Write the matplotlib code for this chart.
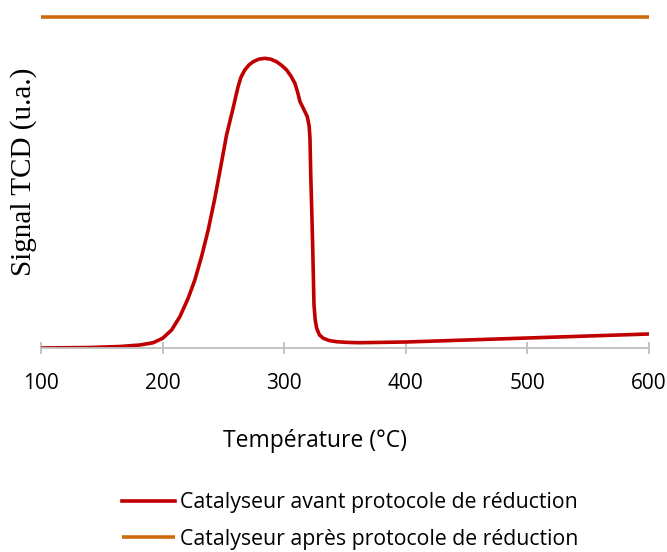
import matplotlib.pyplot as plt
import numpy as np

# TPR curve, signal (arbitrary units)
avant_temp = [100, 140, 165, 181.4, 192.3, 200, 207.4, 214.2, 221, 226.5, 232,
              237.5, 243, 247, 252.6, 258, 262, 264.5, 267.6, 271, 274.5, 279,
              284, 289, 293.7, 298, 302, 305.5, 308.8, 311, 313, 315.7, 319,
              320.5, 321.2, 321.8, 322.6, 323.4, 324.5, 325.5, 326.7, 329,
              332.2, 337, 343, 352, 362, 400, 450, 500, 550, 600]
avant_signal = [0, 0.5, 1.5, 3, 5.3, 9.7, 18, 31.3, 49.7, 68, 91.3,
                118, 150, 176, 213, 240, 261, 271, 278, 283, 286.3, 288.8,
                289.7, 288.8, 286.3, 282.5, 278, 272, 264.7, 256, 246.3, 239.7, 231.3,
                222, 209.7, 175, 140, 103, 43, 28, 19.7, 13,
                9.7, 7.5, 6.3, 5.6, 5.3, 6, 8, 10, 12, 14]

apres_temp = [100, 600]
apres_signal = [331, 331]

x_ticks = [100, 200, 300, 400, 500, 600]

plt.rcParams['font.family'] = ['Open Sans', 'DejaVu Sans']

fig = plt.figure(figsize=(6.67, 5.52), dpi=100)
ax = fig.add_axes([41 / 667, 1 - 348 / 552, 608 / 667, 338 / 552])

ax.plot(avant_temp, avant_signal, color="#C00000", lw=2.6,
        label="Catalyseur avant protocole de réduction", solid_joinstyle='round')
ax.plot(apres_temp, apres_signal, color="#CF6A0C", lw=2.6,
        label="Catalyseur après protocole de réduction", solid_capstyle='butt')

ax.set_xlim(100, 600)
ax.set_ylim(0, 338)
ax.set_xticks(x_ticks)
ax.set_yticks([])
for s in ['top', 'right', 'left']:
    ax.spines[s].set_visible(False)
ax.spines['bottom'].set_color('#BFBFBF')
ax.spines['bottom'].set_linewidth(1.3)
ax.tick_params(axis='x', direction='inout', length=8, width=1.3, color='#BFBFBF',
               labelsize=15, pad=14)

fig.text(315 / 667, 1 - 441 / 552, 'Température (°C)', fontsize=16.5,
         ha='center', va='center')
ax.set_ylabel('Signal TCD (u.a.)', fontsize=21, family='Liberation Serif')
ax.yaxis.set_label_coords(-0.006, 0.52)

fig.legend(loc='center left', bbox_to_anchor=(103 / 667, 1 - 521 / 552), frameon=False,
           fontsize=15.3, handlelength=2.5, handletextpad=0.24, labelspacing=0.72,
           borderpad=0.4)

plt.savefig('out.png', dpi=100)
